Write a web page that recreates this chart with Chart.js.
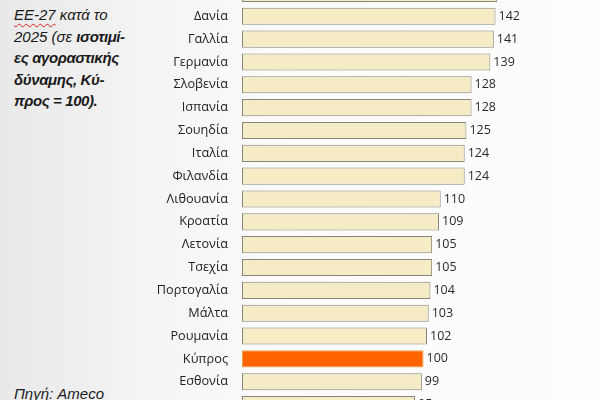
<!DOCTYPE html>
<html>
<head>
<meta charset="utf-8">
<script src="https://cdn.jsdelivr.net/npm/chart.js@4.4.1/dist/chart.umd.min.js"></script>
<style>
  html, body { margin:0; padding:0; }
  body {
    width:600px; height:400px; overflow:hidden; position:relative;
    background: linear-gradient(90deg, #e9e9e9 0%, #f4f4f4 25%, #fbfbfb 45%, #fdfdfd 100%);
    font-family: "Liberation Sans", Arial, sans-serif;
  }
  #c { position:absolute; left:0; top:-18px; }
  .note {
    position:absolute; left:14px; top:4px; width:150px;
    font-size:15px; font-style:italic; line-height:21.6px; color:#1a1a1a;
  }
  .note b { font-weight:bold; letter-spacing:-0.4px; }
  .sp { text-decoration: underline wavy #d22; text-decoration-thickness:1px; text-underline-offset:3px; }
  .src {
    position:absolute; left:14px; top:385px;
    font-size:15px; font-style:italic; color:#1a1a1a;
  }
</style>
</head>
<body>
<div class="note"><span class="sp">ΕΕ-27</span> κατά το<br>2025 (σε <b>ισοτιμί-<br>ες αγοραστικής<br>δύναμης, Κύ-<br>προς = 100).</b></div>
<div class="src">Πηγή: Ameco</div>
<canvas id="c" width="600" height="434"></canvas>
<script>
const categories = ["", "Δανία", "Γαλλία", "Γερμανία", "Σλοβενία", "Ισπανία", "Σουηδία", "Ιταλία", "Φιλανδία", "Λιθουανία", "Κροατία", "Λετονία", "Τσεχία", "Πορτογαλία", "Μάλτα", "Ρουμανία", "Κύπρος", "Εσθονία", ""];
const values = [143, 142, 141, 139, 128, 128, 125, 124, 124, 110, 109, 105, 105, 104, 103, 102, 100, 99, 95];
const highlight = "Κύπρος";

const fills = categories.map(c => c === highlight ? "#ff6400" : "#f5ecc6");
const borders = categories.map(c => c === highlight ? "#e8a050" : "#85857c");

const valueLabels = {
  id: "valueLabels",
  afterDatasetsDraw(chart) {
    const ctx = chart.ctx;
    const meta = chart.getDatasetMeta(0);
    ctx.save();
    ctx.font = "12.5px 'Open Sans', 'Liberation Sans', sans-serif";
    ctx.fillStyle = "#2a2a2a";
    ctx.textAlign = "left";
    ctx.textBaseline = "middle";
    meta.data.forEach((bar, i) => {
      ctx.fillText(String(values[i]), bar.x + 3, bar.y);
    });
    ctx.restore();
  }
};

new Chart(document.getElementById("c"), {
  type: "bar",
  data: {
    labels: categories,
    datasets: [{
      data: values,
      base: -6,
      backgroundColor: fills,
      borderColor: borders,
      borderWidth: 1,
      borderSkipped: false,
      barPercentage: 0.75,
      categoryPercentage: 1.0
    }]
  },
  options: {
    indexAxis: "y",
    responsive: false,
    animation: false,
    layout: { padding: 0 },
    plugins: { legend: { display: false }, tooltip: { enabled: false } },
    scales: {
      x: { display: false, min: -6, max: 203 },
      y: {
        grid: { display: false, drawTicks: false },
        border: { display: false },
        ticks: {
          padding: 14,
          color: "#222",
          font: { family: "'Open Sans', 'Liberation Sans', sans-serif", size: 12.7 }
        },
        afterFit(scale) {
          scale.width = 242;
          scale.paddingTop = 0;
          scale.paddingBottom = 0;
        }
      }
    }
  },
  plugins: [valueLabels]
});
</script>
</body>
</html>
